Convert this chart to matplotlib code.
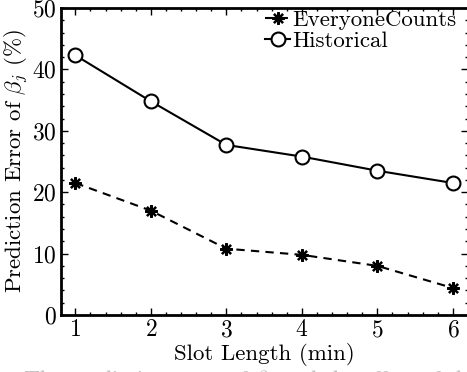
import matplotlib
matplotlib.use("Agg")
import matplotlib.pyplot as plt
from matplotlib.ticker import MultipleLocator

slot_length = [1, 2, 3, 4, 5, 6]
everyone_counts = [21.5, 17.0, 10.8, 9.8, 8.0, 4.4]
historical = [42.3, 34.8, 27.7, 25.8, 23.5, 21.5]

plt.rcParams['font.family'] = 'serif'
plt.rcParams['font.serif'] = ['cmr10']
plt.rcParams['mathtext.fontset'] = 'cm'
plt.rcParams['axes.formatter.use_mathtext'] = True

fig = plt.figure(figsize=(4.67, 3.72), dpi=100)
ax = fig.add_axes([0.1306, 0.1532, 0.8715, 0.8253])

ax.plot(slot_length, everyone_counts, color='black', linestyle='--', linewidth=1.5,
        dashes=(4, 3), marker=(8, 2, 0), markersize=9, markeredgewidth=1.6,
        label='EveryoneCounts')
ax.plot(slot_length, historical, color='black', linestyle='-', linewidth=1.5,
        marker='o', markersize=10, markerfacecolor='white', markeredgewidth=1.5,
        label='Historical')

ax.set_xlim(0.81, 6.2)
ax.set_ylim(0, 50)
ax.set_xticks(slot_length)
ax.set_yticks([0, 10, 20, 30, 40, 50])
ax.xaxis.set_minor_locator(MultipleLocator(0.2))
ax.yaxis.set_minor_locator(MultipleLocator(2))
ax.tick_params(which='both', direction='in', top=True, right=True, labelsize=17, width=1)
ax.tick_params(which='major', length=5, pad=3)
ax.tick_params(which='minor', length=2.5)
for sp in ax.spines.values():
    sp.set_linewidth(2)

ax.set_xlabel('Slot Length (min)', fontsize=16.5, labelpad=1)
ax.set_ylabel(r'Prediction Error of $\beta_j$ (%)', fontsize=16.5, labelpad=1)

ax.legend(loc='upper right', frameon=False, fontsize=16.5, handlelength=1.1,
          handletextpad=0.1, borderaxespad=0.0, labelspacing=0.05,
          bbox_to_anchor=(0.995, 1.025))

fig.text(0.05, -0.062, r'The prediction error of $\beta_j$ and the effect of slot length',
         fontsize=16, color='#bbbbbb', va='bottom')

fig.savefig('out.png', dpi=100)
